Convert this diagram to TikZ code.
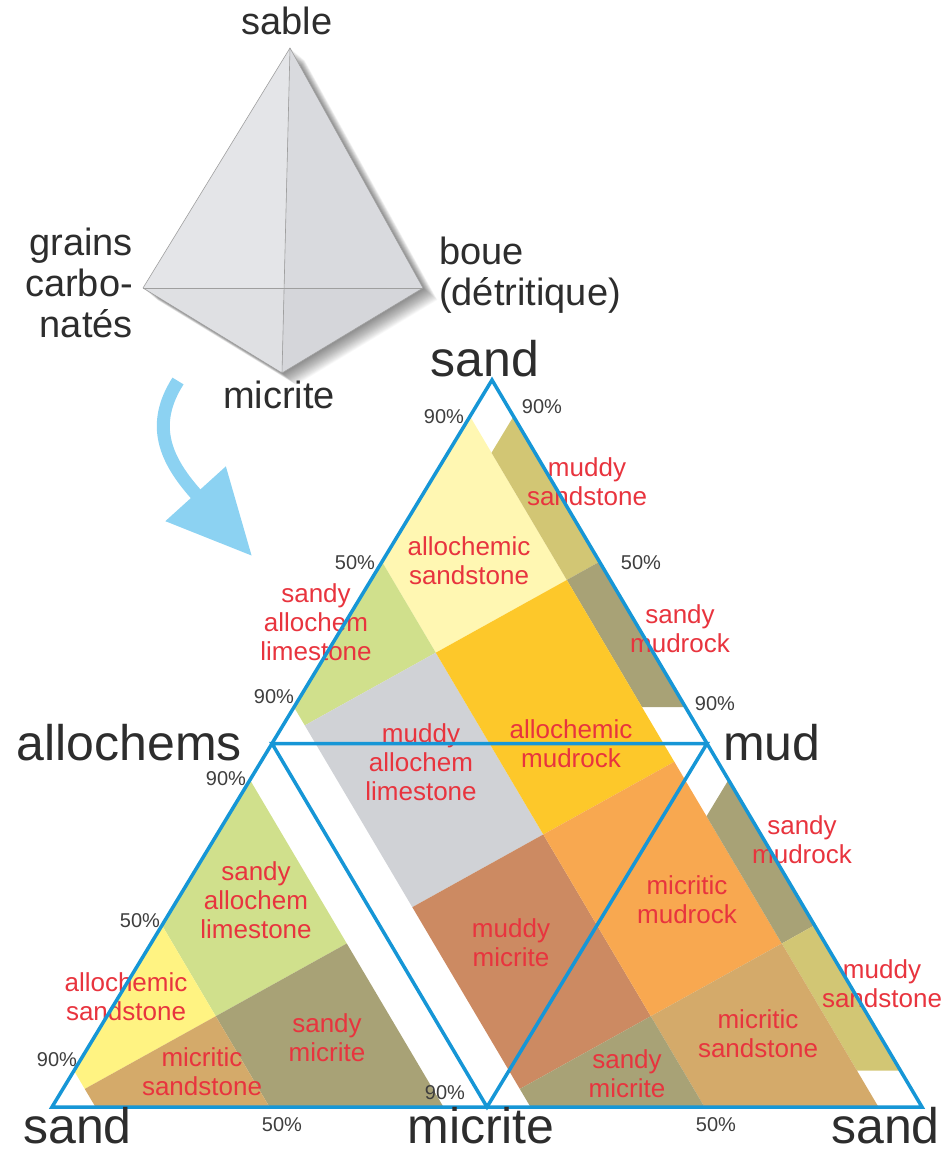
\documentclass[tikz,border=0pt]{standalone}
\usepackage{fontspec}
\setmainfont{Liberation Sans}
\usetikzlibrary{calc,arrows.meta}

\definecolor{edgeblue}{RGB}{22,150,214}
\definecolor{arrowblue}{RGB}{140,210,242}
\definecolor{rockred}{RGB}{232,52,62}
\definecolor{labelgray}{RGB}{45,45,45}
\definecolor{pctgray}{RGB}{62,62,62}
\definecolor{paleyellow}{RGB}{255,247,178}
\definecolor{brightyellow}{RGB}{255,243,130}
\definecolor{khaki}{RGB}{210,198,116}
\definecolor{oliveband}{RGB}{168,162,118}
\definecolor{limegreen}{RGB}{208,224,140}
\definecolor{greyfill}{RGB}{208,210,214}
\definecolor{goldfill}{RGB}{253,200,42}
\definecolor{apricot}{RGB}{248,168,80}
\definecolor{clay}{RGB}{204,138,98}
\definecolor{sandtan}{RGB}{212,170,106}
\definecolor{faceA}{RGB}{228,229,232}
\definecolor{faceB}{RGB}{217,218,222}
\definecolor{faceC}{RGB}{223,224,227}
\definecolor{faceD}{RGB}{213,214,218}

\begin{document}
\begin{tikzpicture}[x=1pt, y=-1pt,
    edge/.style={draw=edgeblue, line width=3.5pt},
    rock/.style={text=rockred, font=\fontsize{26}{29}\selectfont, align=center, inner sep=0pt},
    pct/.style={text=pctgray, font=\fontsize{20}{24}\selectfont, inner sep=0pt},
    pole/.style={text=labelgray, font=\fontsize{50}{60}\selectfont, inner sep=0pt},
    corner/.style={text=labelgray, font=\fontsize{38}{41}\selectfont, inner sep=0pt},
    face/.style={draw=gray!75, line width=0.6pt, line join=round}
  ]
  \useasboundingbox (0,0) rectangle (943,1153);

  % Tetrahedron
  \coordinate (tTop)    at (290,48);
  \coordinate (tLeft)   at (143,288);
  \coordinate (tRight)  at (423,288);
  \coordinate (tBottom) at (282,373);
  \coordinate (tCross)  at (intersection of tTop--tBottom and tLeft--tRight);

  % soft shadow
  \foreach \k in {1,...,24}
    \fill[black, opacity=0.022]
      ([shift={(0.6*\k,0.5*\k)}]tTop) -- ([shift={(0.6*\k,0.5*\k)}]tRight)
      -- ([shift={(0.6*\k,0.5*\k)}]tBottom) -- ([shift={(0.6*\k,0.5*\k)}]tLeft) -- cycle;

  \fill[faceA] (tTop) -- (tLeft) -- (tCross) -- cycle;
  \fill[faceB] (tTop) -- (tCross) -- (tRight) -- cycle;
  \fill[faceC] (tLeft) -- (tBottom) -- (tCross) -- cycle;
  \fill[faceD] (tCross) -- (tBottom) -- (tRight) -- cycle;
  \draw[face] (tTop) -- (tLeft) -- (tBottom) -- (tRight) -- cycle;
  \draw[face] (tTop) -- (tBottom);
  \draw[face] (tLeft) -- (tRight);

  \node[corner, anchor=base] (tSable) at (287,35) {sable};
  \node[corner, align=right, anchor=east] (tGrains) at (133,283) {grains\\carbo-\\natés};
  \node[corner, align=left, anchor=west] (tBoue) at (439,275) {boue\\(détritique)};
  \node[corner, anchor=base] (tMicrite) at (279,408) {micrite};

  % Arrow
  \coordinate (arrowStart) at (178,381);
  \coordinate (arrowTip)   at (252,556);
  \draw[arrowblue, line width=13pt, -{Triangle[length=84pt,width=78pt]}]
    (arrowStart) .. controls (150,425) and (165,460) .. (arrowTip);

  % Ternary frame
  \coordinate (sandTop) at (492,380);
  \coordinate (sandL)   at (52,1107);
  \coordinate (sandR)   at (922,1107);
  \coordinate (alloch)  at ($(sandTop)!0.5!(sandL)$);
  \coordinate (mud)     at ($(sandTop)!0.5!(sandR)$);
  \coordinate (micr)    at ($(sandL)!0.5!(sandR)$);

  % Lines parallel to the edges
  \foreach \f in {05,25,45,55,75,95} {
    \coordinate (p\f a) at ($(sandTop)!0.\f!(sandL)$);
    \coordinate (p\f b) at ($(sandR)!0.\f!(sandL)$);
    \coordinate (q\f a) at ($(sandTop)!0.\f!(sandR)$);
    \coordinate (q\f b) at ($(sandL)!0.\f!(sandR)$);
  }

  % Crossing points
  \coordinate (p05q05) at (intersection of p05a--p05b and q05a--q05b);
  \coordinate (p05q55) at (intersection of p05a--p05b and q55a--q55b);
  \coordinate (p05h10) at (intersection of p05a--p05b and p45a--q45a);
  \coordinate (p05h95) at (intersection of p05a--p05b and p95a--q95a);
  \foreach \f in {05,25,45} {
    \coordinate (p\f ma) at (intersection of p\f a--p\f b and alloch--q25a);
    \coordinate (p\f mi) at (intersection of p\f a--p\f b and micr--q75a);
  }
  \foreach \f in {05,25,45,55,75,95}
    \coordinate (p\f lm) at (intersection of p\f a--p\f b and sandL--mud);

  % Regions
  \fill[paleyellow]   (p05a) -- (p25a) -- (p25ma) -- (p05ma) -- cycle;
  \fill[khaki]        (q05a) -- (p05q05) -- (p05ma) -- (q25a) -- cycle;
  \fill[oliveband]    (q25a) -- (p05ma) -- (p05h10) -- (q45a) -- cycle;
  \fill[limegreen]    (p25a) -- (p45a) -- (p45ma) -- (p25ma) -- cycle;
  \fill[greyfill]     (p45ma) -- (p25ma) -- (p25lm) -- (p45lm) -- cycle;
  \fill[goldfill]     (p25ma) -- (p05ma) -- (p05lm) -- (p25lm) -- cycle;
  \fill[clay]         (p45lm) -- (p25lm) -- (p25mi) -- (p45mi) -- cycle;
  \fill[apricot]      (p25lm) -- (p05lm) -- (p05mi) -- (p25mi) -- cycle;
  \fill[oliveband]    (q55a) -- (p05q55) -- (p05mi) -- (q75a) -- cycle;
  \fill[khaki]        (q75a) -- (p05mi) -- (p05h95) -- (q95a) -- cycle;
  \fill[sandtan]      (p25mi) -- (p05mi) -- (p05b) -- (p25b) -- cycle;
  \fill[oliveband]    (p45mi) -- (p25mi) -- (p25b) -- (p45b) -- cycle;
  \fill[limegreen]    (p55a) -- (p55lm) -- (p75lm) -- (p75a) -- cycle;
  \fill[oliveband]    (p55lm) -- (p55b) -- (p75b) -- (p75lm) -- cycle;
  \fill[brightyellow] (p75a) -- (p75lm) -- (p95lm) -- (p95a) -- cycle;
  \fill[sandtan]      (p75lm) -- (p75b) -- (p95b) -- (p95lm) -- cycle;

  % Rock names
  \node[rock] (rMuddySandTop)   at (587,482)  {muddy\\sandstone};
  \node[rock] (rAllochSandTop)  at (469,561)  {allochemic\\sandstone};
  \node[rock] (rSandyAllTop)    at (316,622)  {sandy\\allochem\\limestone};
  \node[rock] (rSandyMudTop)    at (680,629)  {sandy\\mudrock};
  \node[rock] (rMuddyAlloch)    at (421,762)  {muddy\\allochem\\limestone};
  \node[rock] (rAllochMud)      at (571,744)  {allochemic\\mudrock};
  \node[rock] (rSandyMudLow)    at (802,840)  {sandy\\mudrock};
  \node[rock] (rMicMud)         at (687,900)  {micritic\\mudrock};
  \node[rock] (rMuddyMic)       at (511,943)  {muddy\\micrite};
  \node[rock] (rMuddySandLow)   at (882,984)  {muddy\\sandstone};
  \node[rock] (rSandyAllLow)    at (256,900)  {sandy\\allochem\\limestone};
  \node[rock] (rAllochSandLow)  at (126,997)  {allochemic\\sandstone};
  \node[rock] (rSandyMicLow)    at (327,1038) {sandy\\micrite};
  \node[rock] (rMicSandLow)     at (202,1072) {micritic\\sandstone};
  \node[rock] (rMicSandRight)   at (758,1034) {micritic\\sandstone};
  \node[rock] (rSandyMicMid)    at (627,1074) {sandy\\micrite};

  % Percent marks
  \node[pct] (pcTopL)    at (444,417)  {90\%};
  \node[pct] (pcTopR)    at (542,407)  {90\%};
  \node[pct] (pcMidL)    at (355,563)  {50\%};
  \node[pct] (pcMidR)    at (641,563)  {50\%};
  \node[pct] (pcAllTop)  at (274,697)  {90\%};
  \node[pct] (pcMudTop)  at (715,704)  {90\%};
  \node[pct] (pcAllLow)  at (226,779)  {90\%};
  \node[pct] (pcLowL)    at (140,921)  {50\%};
  \node[pct] (pcSandL)   at (57,1060)  {90\%};
  \node[pct] (pcBotL)    at (282,1125) {50\%};
  \node[pct] (pcMicr)    at (445,1093) {90\%};
  \node[pct] (pcBotR)    at (716,1125) {50\%};

  % Frame
  \draw[edge] (sandTop) -- (sandL) -- (sandR) -- cycle;
  \draw[edge] (alloch) -- (mud) -- (micr) -- cycle;

  % Poles
  \node[pole, anchor=base] (poleSandTop) at (485,376) {sand};
  \node[pole, anchor=base east] (poleAlloch) at (242,760) {allochems};
  \node[pole, anchor=base west] (poleMud) at (723,760) {mud};
  \node[pole, anchor=base] (poleMicr) at (481,1143) {micrite};
  \node[pole, anchor=base west] (poleSandL) at (23,1143) {sand};
  \node[pole, anchor=base east] (poleSandR) at (940,1143) {sand};
\end{tikzpicture}
\end{document}
